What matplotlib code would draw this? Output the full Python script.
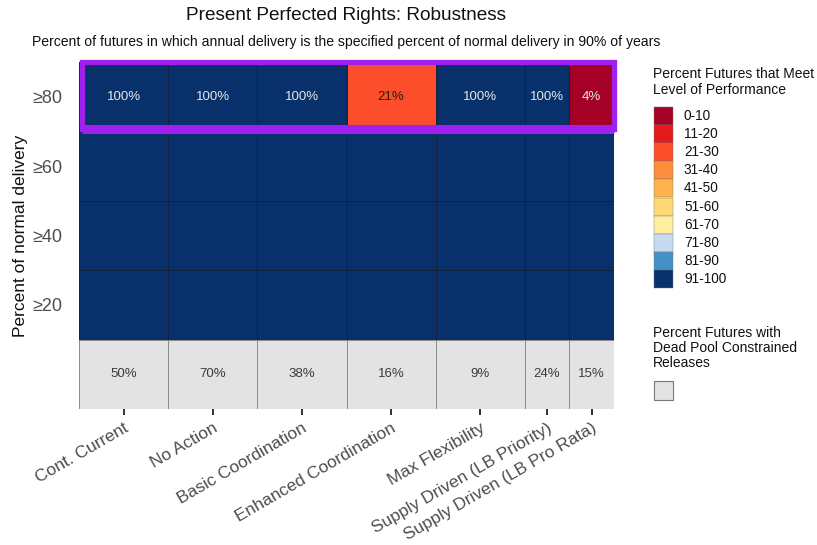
import numpy as np
import matplotlib
matplotlib.use("Agg")
import matplotlib.pyplot as plt
from matplotlib.colors import ListedColormap, BoundaryNorm
from matplotlib.patches import Rectangle

plt.rcParams['font.family'] = ['Liberation Sans', 'DejaVu Sans']

# ---- data ----
scenarios = ["Cont. Current", "No Action", "Basic Coordination", "Enhanced Coordination",
             "Max Flexibility", "Supply Driven (LB Priority)", "Supply Driven (LB Pro Rata)"]
col_widths = [1, 1, 1, 1, 1, 0.5, 0.5]
levels = ["\u226520", "\u226540", "\u226560", "\u226580"]
pct_ge80 = [100, 100, 100, 21, 100, 100, 4]
pct_ge60 = [100, 100, 100, 100, 100, 100, 100]
pct_ge40 = [100, 100, 100, 100, 100, 100, 100]
pct_ge20 = [100, 100, 100, 100, 100, 100, 100]
dead_pool = [50, 70, 38, 16, 9, 24, 15]
labelled_level = "\u226580"

bin_labels = ["0-10", "11-20", "21-30", "31-40", "41-50", "51-60", "61-70", "71-80", "81-90", "91-100"]
bin_colors = ["#A50026", "#E31A1C", "#FC4E2A", "#FD8D3C", "#FEB24C", "#FED976",
              "#FFEDA0", "#C6DBEF", "#4292C6", "#08306B"]
bin_edges = [0, 10.5, 20.5, 30.5, 40.5, 50.5, 60.5, 70.5, 80.5, 90.5, 100.5]

# ---- figure ----
W, H = 817, 545
fig = plt.figure(figsize=(W / 100, H / 100), dpi=100)
L, R, T, B = 79, 614, 62, 409
ax = fig.add_axes([L / W, 1 - B / H, (R - L) / W, (B - T) / H])

x_edges = np.concatenate([[0], np.cumsum(col_widths)])
x_centers = (x_edges[:-1] + x_edges[1:]) / 2

cmap = ListedColormap(bin_colors)
norm = BoundaryNorm(bin_edges, cmap.N)

grid = np.array([pct_ge20, pct_ge40, pct_ge60, pct_ge80], dtype=float)
y_edges = np.arange(1, len(levels) + 2)
ax.pcolormesh(x_edges, y_edges, grid, cmap=cmap, norm=norm,
              edgecolors="#15203a", linewidth=0.5)

# dead pool row
ax.pcolormesh(x_edges, [0, 1], np.array([dead_pool], dtype=float),
              cmap=ListedColormap(["#E3E3E3"]), edgecolors="#8c8c8c", linewidth=0.45)

for xc, v in zip(x_centers, dead_pool):
    ax.text(xc, 0.5, f"{v}%", ha="center", va="center", fontsize=9.5, color="#3a3a3a")

top_row = levels.index(labelled_level) + 1
for xc, v in zip(x_centers, pct_ge80):
    col = "#2b1a14" if 20 < v <= 60 else "#E6E6E6"
    ax.text(xc, top_row + 0.5, f"{v}%", ha="center", va="center", fontsize=9.5, color=col)

# purple highlight around top row
ax.add_patch(Rectangle((0.03, top_row + 0.03), x_edges[-1] - 0.03, 0.97, fill=False,
                       edgecolor="#A020F0", linewidth=3.8, clip_on=False, zorder=5))
ax.plot([0.03, x_edges[-1]], [top_row + 0.03, top_row + 0.03], color="#A020F0",
        linewidth=6.5, solid_capstyle="butt", clip_on=False, zorder=5)

ax.set_xlim(0, x_edges[-1])
ax.set_ylim(0, len(levels) + 1)
for s in ax.spines.values():
    s.set_visible(False)

ax.set_xticks(x_centers)
ax.set_xticklabels(scenarios, rotation=30, ha="right", rotation_mode="anchor",
                   fontsize=12.5, color="#4D4D4D")
ax.tick_params(axis="x", length=4, width=1.3, color="#222222", pad=4)
ax.set_yticks(np.arange(1, len(levels) + 1) + 0.5)
ax.set_yticklabels(levels, fontsize=13, color="#4D4D4D")
ax.tick_params(axis="y", length=0, pad=12)
ax.set_ylabel("Percent of normal delivery", fontsize=12.5, color="#111111", labelpad=3)

# titles
cx = (L + R) / 2 / W
fig.text(cx, 1 - 15 / H, "Present Perfected Rights: Robustness", ha="center", va="center",
         fontsize=13.7, color="#111111")
fig.text(cx, 1 - 42 / H,
         "Percent of futures in which annual delivery is the specified percent of normal delivery in 90% of years",
         ha="center", va="center", fontsize=10.1, color="#111111")

# legends (pixel coordinates)
lax = fig.add_axes([0, 0, 1, 1])
lax.set_xlim(0, W)
lax.set_ylim(H, 0)
lax.axis("off")
lax.text(653, 82, "Percent Futures that Meet\nLevel of Performance", ha="left", va="center",
         fontsize=10, color="#111111", linespacing=1.1)
ky0, kh = 107, 18.1
for i, (lab, c) in enumerate(zip(bin_labels, bin_colors)):
    lax.add_patch(Rectangle((654, ky0 + i * kh), 19.5, kh, facecolor=c,
                            edgecolor="#777777", linewidth=0.3))
    lax.text(684, ky0 + i * kh + kh / 2, lab, ha="left", va="center", fontsize=9.8,
             color="#111111")
lax.text(653, 348, "Percent Futures with\nDead Pool Constrained\nReleases", ha="left",
         va="center", fontsize=10, color="#111111", linespacing=1.1)
lax.add_patch(Rectangle((654, 381), 19.5, 18.5, facecolor="#E3E3E3", edgecolor="#777777",
                        linewidth=0.8))

fig.savefig("out.png", dpi=100)
